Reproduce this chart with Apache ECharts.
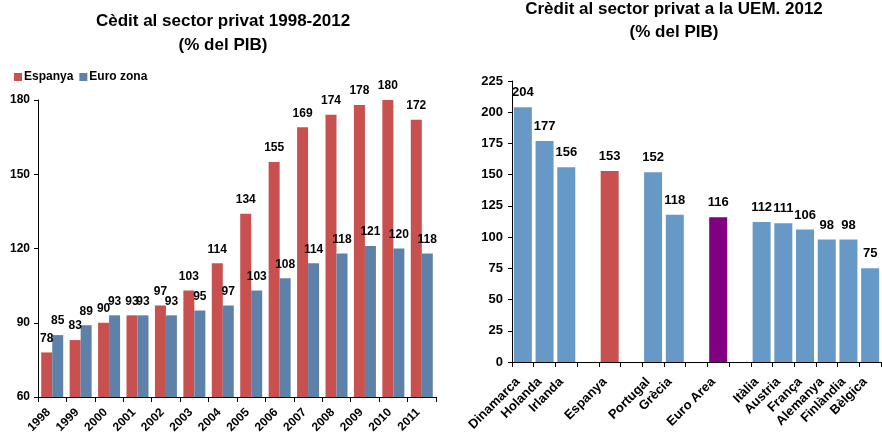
<!DOCTYPE html>
<html>
<head>
<meta charset="utf-8">
<script src="https://cdn.jsdelivr.net/npm/echarts@6/dist/echarts.min.js"></script>
<style>
  html, body { margin: 0; padding: 0; background: #fff; }
  #chart { width: 882px; height: 437px; }
</style>
</head>
<body>
<div id="chart"></div>
<script>
// Left panel: private-sector credit, Spain vs euro zone (% of GDP)
const years = ['1998', '1999', '2000', '2001', '2002', '2003', '2004', '2005', '2006', '2007', '2008', '2009', '2010', '2011'];
const espanya = [78, 83, 90, 93, 97, 103, 114, 134, 155, 169, 174, 178, 180, 172];
const euroZona = [85, 89, 93, 93, 93, 95, 97, 103, 108, 114, 118, 121, 120, 118];
const leftTicks = { min: 60, max: 180, interval: 30 };

// Right panel: private-sector credit in EMU countries, 2012 (% of GDP)
const countries = ['Dinamarca', 'Holanda', 'Irlanda', '', 'Espanya', '', 'Portugal', 'Grècia', '', 'Euro Area', '', 'Itàlia', 'Austria', 'França', 'Alemanya', 'Finlàndia', 'Bèlgica'];
const credit2012 = [204, 177, 156, null, 153, null, 152, 118, null, 116, null, 112, 111, 106, 98, 98, 75];
const rightTicks = { min: 0, max: 225, interval: 25 };

const RED = '#C8504F';
const BLUE_DARK = '#5E81A9';
const BLUE_LIGHT = '#6699C6';
const PURPLE = '#800080';
const FONT = 'Liberation Sans, Arial, sans-serif';

const barColorFor = (name) => name === 'Espanya' ? RED : (name === 'Euro Area' ? PURPLE : BLUE_LIGHT);

const rightData = credit2012.map((v, i) => ({
  value: v === null ? '-' : v,
  itemStyle: { color: barColorFor(countries[i]) }
}));

const axisLineStyle = { lineStyle: { color: '#000', width: 1 } };
const tickStyle = { show: true, inside: false, length: 5, lineStyle: { color: '#000' } };
const bold = (size) => ({ fontFamily: FONT, fontSize: size, fontWeight: 'bold', color: '#000' });

const chart = echarts.init(document.getElementById('chart'), null, { renderer: 'canvas' });

chart.setOption({
  animation: false,
  backgroundColor: '#fff',
  textStyle: { fontFamily: FONT },
  title: [
    {
      text: 'Cèdit al sector privat 1998-2012\n(% del PIB)',
      left: 223, top: 9, textAlign: 'center', padding: 0,
      textStyle: { ...bold(17), lineHeight: 24 }
    },
    {
      text: 'Crèdit al sector privat a la UEM. 2012\n(% del PIB)',
      left: 674, top: -2, textAlign: 'center', padding: 0,
      textStyle: { ...bold(17), lineHeight: 23 }
    }
  ],
  legend: {
    left: 9, top: 66,
    icon: 'rect', itemWidth: 8, itemHeight: 8, itemGap: 6,
    textStyle: { ...bold(12), padding: [0, 0, 0, -3] },
    data: ['Espanya', 'Euro zona']
  },
  grid: [
    { left: 38, right: 446, top: 100, bottom: 40, containLabel: false },
    { left: 512, right: 1, top: 81, bottom: 75, containLabel: false }
  ],
  xAxis: [
    {
      type: 'category', gridIndex: 0, data: years,
      axisLine: axisLineStyle, axisTick: tickStyle,
      axisLabel: { interval: 0, rotate: 45, margin: 10, padding: [0, 5, 0, 0], ...bold(12) }
    },
    {
      type: 'category', gridIndex: 1, data: countries,
      axisLine: axisLineStyle, axisTick: { ...tickStyle, interval: 0 },
      axisLabel: { interval: 0, rotate: 45, margin: 13, padding: [0, 7, 0, 0], ...bold(13) }
    }
  ],
  yAxis: [
    {
      type: 'value', gridIndex: 0, ...leftTicks,
      axisLine: { show: true, ...axisLineStyle }, axisTick: { ...tickStyle, length: 4 },
      splitLine: { show: false },
      axisLabel: { margin: 8, ...bold(12) }
    },
    {
      type: 'value', gridIndex: 1, ...rightTicks,
      axisLine: { show: true, ...axisLineStyle }, axisTick: { ...tickStyle, length: 4 },
      splitLine: { show: false },
      axisLabel: { margin: 9, ...bold(13) }
    }
  ],
  series: [
    {
      name: 'Espanya', type: 'bar', xAxisIndex: 0, yAxisIndex: 0,
      data: espanya, barWidth: 11, barGap: '0%',
      itemStyle: { color: RED },
      label: { show: true, position: 'top', distance: 8, ...bold(12) }
    },
    {
      name: 'Euro zona', type: 'bar', xAxisIndex: 0, yAxisIndex: 0,
      data: euroZona, barWidth: 11, barGap: '0%',
      itemStyle: { color: BLUE_DARK },
      label: { show: true, position: 'top', distance: 8, ...bold(12) }
    },
    {
      name: 'UEM 2012', type: 'bar', xAxisIndex: 1, yAxisIndex: 1,
      data: rightData, barWidth: 18,
      label: { show: true, position: 'top', distance: 8, ...bold(13) }
    }
  ]
});
</script>
</body>
</html>
